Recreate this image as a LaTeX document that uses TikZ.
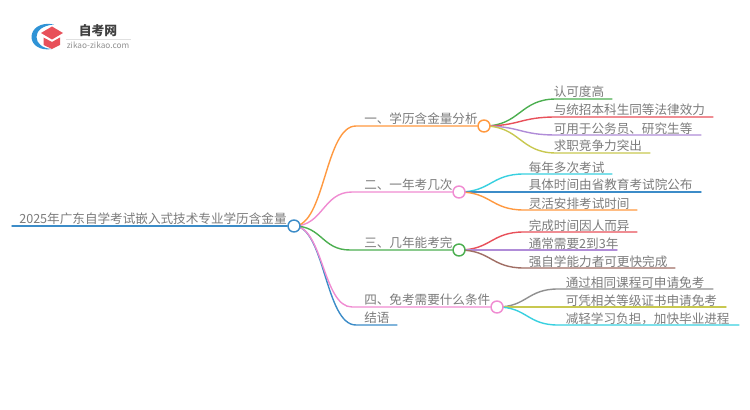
\documentclass[tikz,border=0pt]{standalone}
\usepackage{fontspec}
\setmainfont{Noto Sans CJK SC}
\definecolor{cOrange}{HTML}{FF9940}
\definecolor{cPink}{HTML}{F08CD2}
\definecolor{cGreen}{HTML}{4CAF50}
\definecolor{cBlue}{HTML}{3C8CC8}
\definecolor{cRed}{HTML}{E8505A}
\definecolor{cPurple}{HTML}{B08CD8}
\definecolor{cOlive}{HTML}{C8C850}
\definecolor{cCyan}{HTML}{38D0E0}
\definecolor{cBrown}{HTML}{A06E64}
\definecolor{cGray}{HTML}{909090}
\definecolor{cText}{HTML}{7C7C7C}
\definecolor{cLogo}{HTML}{2F93D6}
\pgfdeclarelayer{lines}
\pgfsetlayers{lines,main}
\tikzset{
  x=0.75pt,y=-0.75pt,
  lbl/.style={anchor=base west,inner sep=0pt,text=cText,font=\fontsize{9.45pt}{11pt}\selectfont},
  hub/.style={circle,draw=#1,fill=white,line width=1.1pt,minimum size=9pt,inner sep=0pt},
  conn/.style={draw=#1,line width=1.05pt,line cap=round}
}
\begin{document}
\begin{tikzpicture}
\begin{pgfonlayer}{lines}
\useasboundingbox[fill=white] (0,0) rectangle (750,410);
\end{pgfonlayer}

% logo
\fill[cLogo] (54,24.5) .. controls (40,21.5) and (31.5,29) .. (31.5,37) .. controls (31.5,45) and (40,51) .. (52,49)
  .. controls (42,48.5) and (36.5,43) .. (36.5,37) .. controls (36.5,31) and (42,25.5) .. cycle;
\fill[cRed] (41,33) -- (52,26.5) -- (63,33) -- (52,39.5) -- cycle;
\fill[cRed] (43.5,37.5) -- (52,42) -- (60,37.5) -- (60,45) -- (52,49) -- (43.5,45) -- cycle;
\node[anchor=center,inner sep=0pt,text=black!75,font=\fontsize{9.6pt}{11pt}\selectfont\bfseries] (logot) at (98,31) {自考网};
\node[anchor=center,inner sep=0pt,text=cGray,font=\fontsize{6.2pt}{8pt}\selectfont] (logos) at (98,45) {zikao-zikao.com};
\coordinate (logoa) at (66,39); \coordinate (logob) at (131,39);
\draw[black!12,line width=.6pt] (logoa) -- (logob);

% hubs
\node[hub=cBlue] (r) at (294,226) {};
\node[hub=cOrange] (b1) at (484,126) {};
\node[hub=cPink] (b2) at (459,192) {};
\node[hub=cGreen] (b3) at (459,250) {};
\node[hub=cPink] (b4) at (497,307) {};

\coordinate (rootS) at (12,226);
\coordinate (b5e) at (397,325);
\coordinate (b5s) at (356,325);
\coordinate (b1s) at (356,126);
\coordinate (b2s) at (352,192);
\coordinate (b3s) at (350,250);
\coordinate (b4s) at (352,307);

% leaf end points
\coordinate (a1) at (612,99);  \coordinate (a1s) at (556,99);
\coordinate (a2) at (713,117); \coordinate (a2s) at (556,117);
\coordinate (a3) at (701,135); \coordinate (a3s) at (556,135);
\coordinate (a4) at (650,153); \coordinate (a4s) at (556,153);
\coordinate (c1) at (612,174); \coordinate (c1s) at (524,174);
\coordinate (c2) at (701,192);
\coordinate (c3) at (637,210); \coordinate (c3s) at (524,210);
\coordinate (d1) at (637,232); \coordinate (d1s) at (524,232);
\coordinate (d2) at (617,250);
\coordinate (d3) at (675,268); \coordinate (d3s) at (524,268);
\coordinate (e1) at (713,289); \coordinate (e1s) at (558,289);
\coordinate (e2) at (726,307);
\coordinate (e3) at (739,325); \coordinate (e3s) at (558,325);

\begin{pgfonlayer}{lines}
\draw[conn=cBlue] (rootS) -- (r);
\draw[conn=cBlue] (r.center) .. controls (325,226) and (325,325) .. (b5s) -- (b5e);
\draw[conn=cPink] (r.center) .. controls (323,226) and (323,307) .. (b4s) -- (b4);
\draw[conn=cGreen] (r.center) .. controls (322,226) and (322,250) .. (b3s) -- (b3);
\draw[conn=cPink] (r.center) .. controls (323,226) and (323,192) .. (b2s) -- (b2);
\draw[conn=cOrange] (r.center) .. controls (325,226) and (325,126) .. (b1s) -- (b1);

\draw[conn=cGreen] (b1.center) .. controls (520,126) and (520,99) .. (a1s) -- (a1);
\draw[conn=cRed] (b1.center) .. controls (520,126) and (520,117) .. (a2s) -- (a2);
\draw[conn=cPurple] (b1.center) .. controls (520,126) and (520,135) .. (a3s) -- (a3);
\draw[conn=cOlive] (b1.center) .. controls (520,126) and (520,153) .. (a4s) -- (a4);

\draw[conn=cCyan] (b2.center) .. controls (491,192) and (491,174) .. (c1s) -- (c1);
\draw[conn=cBlue] (b2.center) -- (c2);
\draw[conn=cOrange] (b2.center) .. controls (491,192) and (491,210) .. (c3s) -- (c3);

\draw[conn=cRed] (b3.center) .. controls (491,250) and (491,232) .. (d1s) -- (d1);
\draw[conn=cPurple] (b3.center) -- (d2);
\draw[conn=cBrown] (b3.center) .. controls (491,250) and (491,268) .. (d3s) -- (d3);

\draw[conn=cGray] (b4.center) .. controls (527,307) and (527,289) .. (e1s) -- (e1);
\draw[conn=cOlive] (b4.center) -- (e2);
\draw[conn=cCyan] (b4.center) .. controls (527,307) and (527,325) .. (e3s) -- (e3);
\end{pgfonlayer}

% labels
\node[lbl] (root) at (19,223.5) {2025年广东自学考试嵌入式技术专业学历含金量};
\node[lbl] (t1) at (364,123.5) {一、学历含金量分析};
\node[lbl] (t2) at (364,189.5) {二、一年考几次};
\node[lbl] (t3) at (364,247.5) {三、几年能考完};
\node[lbl] (t4) at (364,304.5) {四、免考需要什么条件};
\node[lbl] (t5) at (364,322.5) {结语};

\node[lbl] (la1) at (553.5,97) {认可度高};
\node[lbl] (la2) at (553.5,115) {与统招本科生同等法律效力};
\node[lbl] (la3) at (553.5,133) {可用于公务员、研究生等};
\node[lbl] (la4) at (553.5,151) {求职竞争力突出};

\node[lbl] (lc1) at (528.5,172) {每年多次考试};
\node[lbl] (lc2) at (528.5,190) {具体时间由省教育考试院公布};
\node[lbl] (lc3) at (528.5,208) {灵活安排考试时间};

\node[lbl] (ld1) at (528.5,230) {完成时间因人而异};
\node[lbl] (ld2) at (528.5,248) {通常需要2到3年};
\node[lbl] (ld3) at (528.5,266) {强自学能力者可更快完成};

\node[lbl] (le1) at (565.5,287) {通过相同课程可申请免考};
\node[lbl] (le2) at (565.5,305) {可凭相关等级证书申请免考};
\node[lbl] (le3) at (565.5,323) {减轻学习负担，加快毕业进程};
\end{tikzpicture}
\end{document}
